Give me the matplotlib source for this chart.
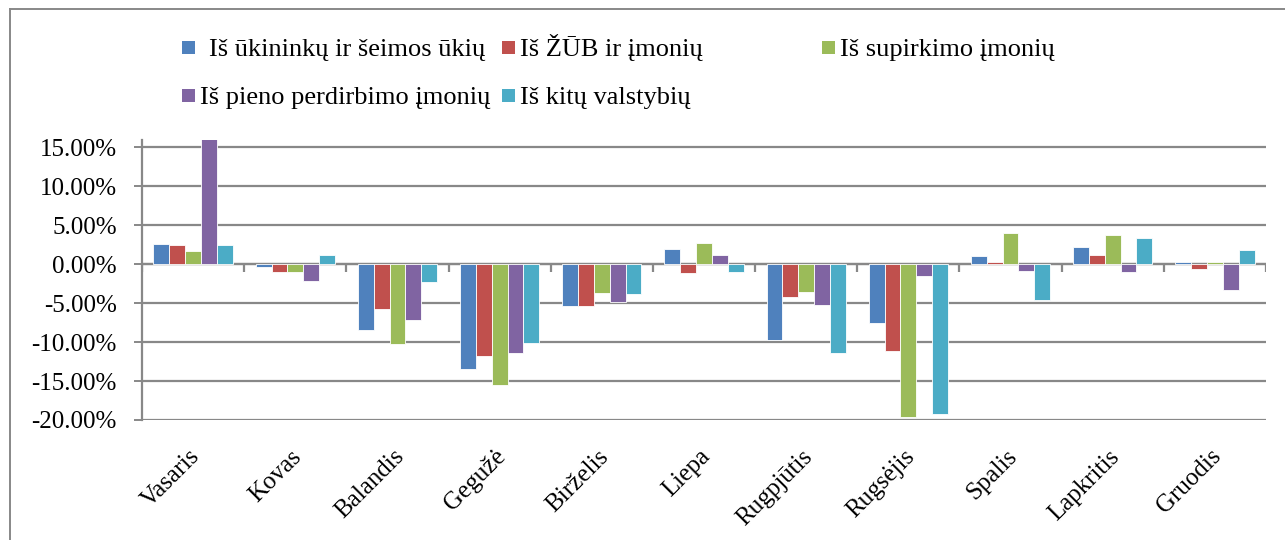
import numpy as np
import matplotlib
matplotlib.use("Agg")
import matplotlib.pyplot as plt
from matplotlib.patches import Rectangle
from matplotlib.lines import Line2D
from matplotlib.ticker import FuncFormatter
from matplotlib.transforms import ScaledTranslation

plt.rcParams['font.family'] = ['Liberation Serif', 'DejaVu Serif']

# data (monthly change, %)
months = ["Vasaris", "Kovas", "Balandis", "Gegužė", "Birželis", "Liepa",
          "Rugpjūtis", "Rugsėjis", "Spalis", "Lapkritis", "Gruodis"]
series_names = [" Iš ūkininkų ir šeimos ūkių", "Iš ŽŪB ir įmonių",
                "Iš supirkimo įmonių", "Iš pieno perdirbimo įmonių",
                "Iš kitų valstybių"]
ukininku = [2.57, -0.30, -8.4, -13.5, -5.36, 1.97, -9.7, -7.6, 1.07, 2.23, 0.34]
zub = [2.44, -0.98, -5.74, -11.8, -5.4, -1.16, -4.15, -11.1, 0.34, 1.16, -0.56]
supirkimo = [1.67, -0.95, -10.2, -15.5, -3.73, 2.7, -3.6, -19.6, 4.0, 3.69, 0.26]
perdirbimo = [16.2, -2.14, -7.2, -11.4, -4.84, 1.16, -5.18, -1.54, -0.86, -0.98, -3.26]
kitu = [2.44, 1.16, -2.27, -10.1, -3.86, -1.03, -11.4, -19.2, -4.6, 3.34, 1.8]
colors = ["#4F81BD", "#C0504D", "#9BBB59", "#8064A2", "#4BACC6"]

GRID = "#888888"
FS = 18
W, H = 1285, 540

fig = plt.figure(figsize=(W / 100, H / 100), dpi=100)
ax = fig.add_axes([142 / W, 120 / H, (1266 - 142) / W, 280 / H])

x = np.arange(len(months))
width = 0.155
all_series = [ukininku, zub, supirkimo, perdirbimo, kitu]
for i, (vals, col) in enumerate(zip(all_series, colors)):
    ax.bar(x + (i - 2) * width, vals, width, color=col, edgecolor="white",
           linewidth=0.6, zorder=3)

ax.set_xlim(-0.5, len(months) - 0.5)
ax.set_ylim(-20, 15.95)
ax.set_yticks(np.arange(-20, 16, 5))
ax.yaxis.set_major_formatter(FuncFormatter(lambda v, p: f"{v:.2f}%"))
ax.grid(axis="y", color=GRID, linewidth=1.6, zorder=0)
ax.set_axisbelow(True)

for s in ["top", "right", "bottom"]:
    ax.spines[s].set_visible(False)
ax.spines["left"].set_color(GRID)
ax.spines["left"].set_linewidth(1.6)

# zero line with category separators
ax.axhline(0, color=GRID, linewidth=1.6, zorder=2)
ax.vlines(np.arange(len(months) + 1) - 0.5, -1.0, 0, color=GRID,
          linewidth=1.6, zorder=2)

ax.tick_params(axis="y", direction="out", length=6, width=1.4, color=GRID,
               pad=12, labelsize=FS)
ax.set_xticks(x)
ax.set_xticklabels(months, rotation=45, ha="right", va="center",
                   rotation_mode="anchor", fontsize=FS)
ax.tick_params(axis="x", length=0, pad=24)
shift = ScaledTranslation(3 / 100, 0, fig.dpi_scale_trans)
for lab in ax.get_xticklabels():
    lab.set_transform(lab.get_transform() + shift)

# legend drawn by hand to follow the original grid layout
legend_pos = [(182, 56), (502, 56), (822, 56), (182, 104), (502, 104)]
for (lx, base), name, col in zip(legend_pos, series_names, colors):
    fig.patches.append(Rectangle((lx / W, 1 - (base - 2) / H), 13 / W,
                                 13 / H, transform=fig.transFigure,
                                 facecolor=col, edgecolor="none"))
    tx = lx + (27 if name.startswith(" ") else 18)
    fig.text(tx / W, 1 - base / H, name.strip(), fontsize=19,
             va="baseline", ha="left")

# outer frame
fig.lines.append(Line2D([10 / W, 10 / W], [0, 1 - 9 / H],
                        transform=fig.transFigure, color=GRID, linewidth=1.4))
fig.lines.append(Line2D([10 / W, 1], [1 - 9 / H, 1 - 9 / H],
                        transform=fig.transFigure, color=GRID, linewidth=1.4))

fig.savefig("out.png", dpi=100)
